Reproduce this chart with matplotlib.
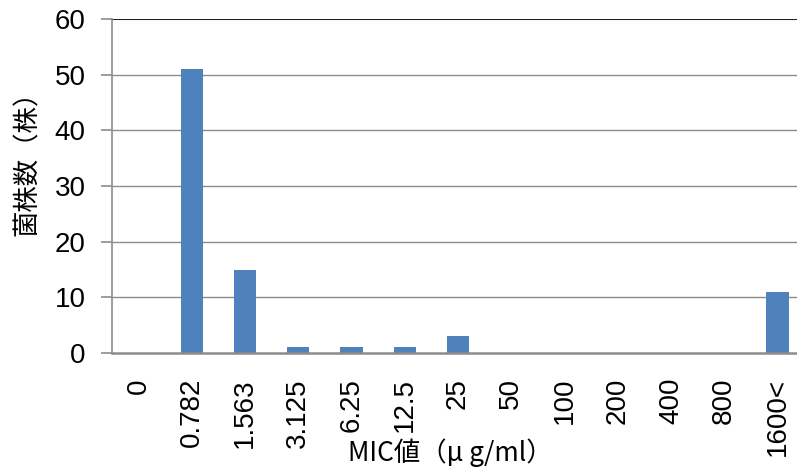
import matplotlib
matplotlib.use("Agg")
import matplotlib.pyplot as plt

plt.rcParams['font.family'] = ['Noto Sans CJK JP', 'DejaVu Sans']

categories = ["0", "0.782", "1.563", "3.125", "6.25", "12.5", "25", "50",
              "100", "200", "400", "800", "1600<"]
counts = [0, 51, 15, 1, 1, 1, 3, 0, 0, 0, 0, 0, 11]
yticks = [0, 10, 20, 30, 40, 50, 60]

fig = plt.figure(figsize=(7.97, 4.70), dpi=100)
ax = fig.add_axes([112/797, 1 - 353/470, (804-112)/797, (353-19)/470])

x = range(len(categories))
ax.bar(x, counts, width=0.42, color="#4F81BD", zorder=3)
ax.set_xlim(-0.5, len(categories) - 0.5)
ax.set_ylim(0, 60)
ax.set_yticks(yticks)
ax.set_yticklabels([str(v) for v in yticks], fontsize=20, family=['Liberation Sans', 'DejaVu Sans'])
for v in yticks[1:-1]:
    ax.axhline(v, color="#8c8c8c", lw=1.0, zorder=1)
ax.axhline(60, color="#222222", lw=1.5, zorder=2)

ax.set_xticks(list(x))
ax.set_xticklabels(categories, rotation=90, fontsize=20, family=['Liberation Sans', 'Noto Sans CJK JP'])
ax.tick_params(axis='x', length=0, pad=18)
ax.tick_params(axis='y', length=8, width=1.2, color="#8c8c8c", pad=11)

for s in ['top', 'right']:
    ax.spines[s].set_visible(False)
ax.spines['left'].set_color("#8c8c8c")
ax.spines['left'].set_linewidth(1.2)
ax.spines['bottom'].set_color("#8c8c8c")
ax.spines['bottom'].set_linewidth(1.8)
ax.spines['bottom'].set_zorder(4)

fig.text(27/797, 1 - 157/470, "菌株数（株）", fontsize=19, rotation=90, ha='center', va='center')
fig.text(450/797, 1 - 453/470, "MIC値（μ g/ml）", fontsize=19, ha='center', va='center')

fig.savefig("out.png", dpi=100)
